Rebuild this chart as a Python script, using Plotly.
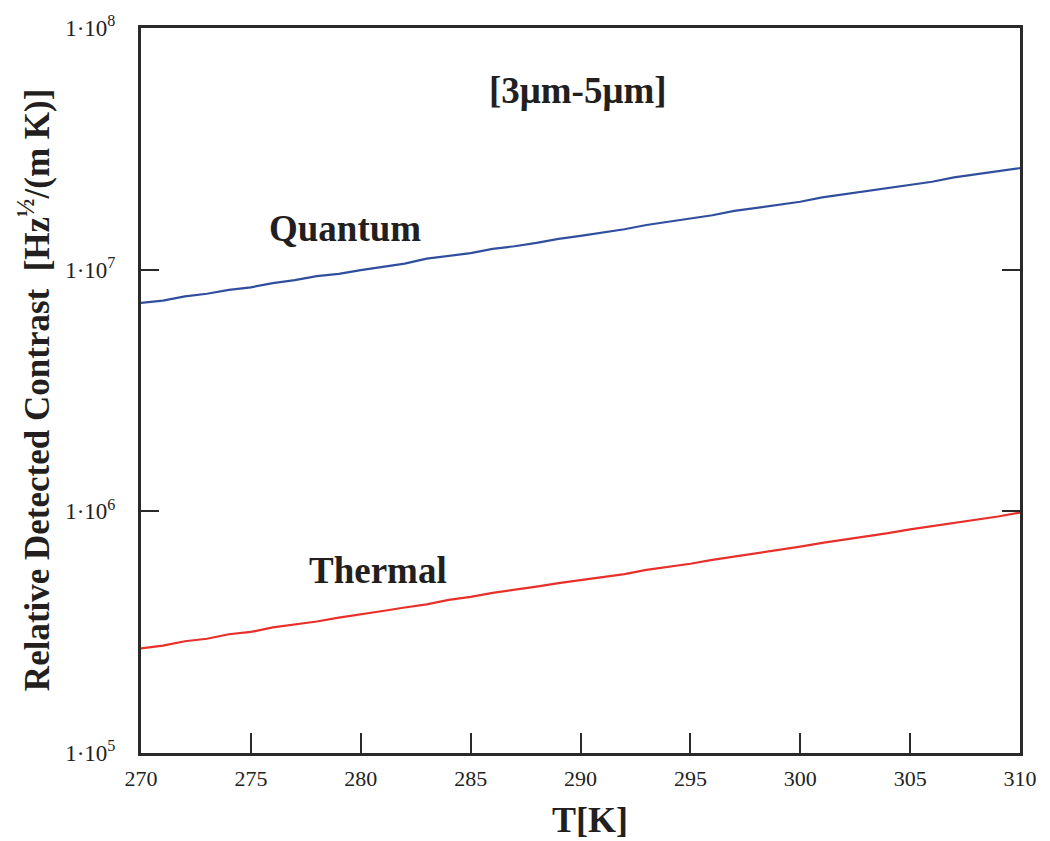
import plotly.graph_objects as go

T = list(range(270, 311))
quantum = [7.28e6, 7.45e6, 7.75e6, 7.95e6, 8.25e6, 8.45e6, 8.8e6, 9.05e6, 9.4e6, 9.6e6,
           9.95e6, 10.3e6, 10.6e6, 11.1e6, 11.4e6, 11.7e6, 12.2e6, 12.5e6, 12.9e6, 13.4e6,
           13.8e6, 14.2e6, 14.7e6, 15.3e6, 15.8e6, 16.3e6, 16.8e6, 17.5e6, 18.0e6, 18.5e6,
           19.1e6, 19.9e6, 20.5e6, 21.1e6, 21.8e6, 22.5e6, 23.1e6, 24.1e6, 24.8e6, 25.5e6, 26.3e6]
thermal = [2.71e5, 2.78e5, 2.90e5, 2.97e5, 3.10e5, 3.17e5, 3.31e5, 3.40e5, 3.50e5, 3.63e5,
           3.74e5, 3.87e5, 4.00e5, 4.12e5, 4.30e5, 4.43e5, 4.60e5, 4.73e5, 4.88e5, 5.05e5,
           5.20e5, 5.34e5, 5.50e5, 5.72e5, 5.89e5, 6.07e5, 6.30e5, 6.50e5, 6.70e5, 6.90e5,
           7.15e5, 7.40e5, 7.62e5, 7.88e5, 8.12e5, 8.42e5, 8.68e5, 8.95e5, 9.22e5, 9.52e5, 9.88e5]

x_ticks = [270, 275, 280, 285, 290, 295, 300, 305, 310]
y_ticks = [1e5, 1e6, 1e7, 1e8]
y_ticktext = ["1·10<sup>5</sup>", "1·10<sup>6</sup>", "1·10<sup>7</sup>", "1·10<sup>8</sup>"]

serif = "Liberation Serif, Times New Roman, serif"
axcol = "#2a2a2a"
txtcol = "#231f20"

fig = go.Figure()
fig.add_trace(go.Scatter(x=T, y=quantum, mode="lines", line=dict(color="#2f4f9e", width=2.2),
                         name="Quantum", showlegend=False))
fig.add_trace(go.Scatter(x=T, y=thermal, mode="lines", line=dict(color="#e8302a", width=2.2),
                         name="Thermal", showlegend=False))

fig.update_layout(
    width=1050, height=841,
    margin=dict(l=141, r=30, t=28, b=88),
    paper_bgcolor="white", plot_bgcolor="white",
    font=dict(family=serif, color="#222"),
    xaxis=dict(range=[270, 310], tickvals=x_ticks, ticks="inside", ticklen=20, tickwidth=2,
               tickcolor=axcol, showline=True, linewidth=3, linecolor=axcol, mirror=True,
               showgrid=False, zeroline=False, ticklabelstandoff=4,
               tickfont=dict(size=22, family=serif, color="#222")),
    yaxis=dict(type="log", range=[5, 8], tickvals=y_ticks, ticktext=y_ticktext,
               ticks="inside", ticklen=18, tickwidth=2, tickcolor=axcol, showline=True,
               linewidth=3, linecolor=axcol, mirror="ticks", showgrid=False, zeroline=False,
               ticklabelstandoff=18,
               tickfont=dict(size=23, family=serif, color="#222")),
    annotations=[
        dict(x=289.9, y=7.743, xref="x", yref="y", text="<b>[3μm-5μm]</b>", showarrow=False,
             xanchor="center", yanchor="middle",
             font=dict(size=37, family=serif, color=txtcol)),
        dict(x=279.3, y=7.172, xref="x", yref="y", text="<b>Quantum</b>", showarrow=False,
             xanchor="center", yanchor="middle",
             font=dict(size=37, family=serif, color=txtcol)),
        dict(x=280.8, y=5.756, xref="x", yref="y", text="<b>Thermal</b>", showarrow=False,
             xanchor="center", yanchor="middle",
             font=dict(size=37, family=serif, color=txtcol)),
        dict(x=0.511, y=-0.093, xref="paper", yref="paper", text="<b>T[K]</b>", showarrow=False,
             xanchor="center", yanchor="middle",
             font=dict(size=36, family=serif, color=txtcol)),
        dict(x=-0.121, y=0.50, xref="paper", yref="paper", textangle=-90,
             xanchor="center", yanchor="middle",
             text="<b>Relative Detected Contrast  [Hz<sup>½</sup>/(m K)]</b>", showarrow=False,
             font=dict(size=35, family=serif, color=txtcol)),
    ],
)

fig.write_html("out.html")
